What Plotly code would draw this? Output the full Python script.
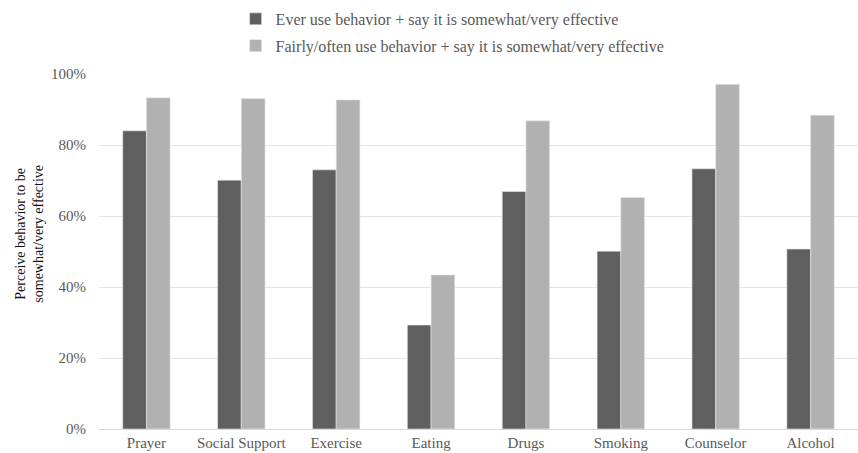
import plotly.graph_objects as go

categories = ["Prayer", "Social Support", "Exercise", "Eating", "Drugs", "Smoking", "Counselor", "Alcohol"]
ever_use = [0.84, 0.701, 0.73, 0.293, 0.669, 0.501, 0.733, 0.507]
often_use = [0.933, 0.931, 0.927, 0.434, 0.868, 0.652, 0.971, 0.884]
series_names = [
    "Ever use behavior + say it is somewhat/very effective",
    "Fairly/often use behavior + say it is somewhat/very effective",
]
y_ticks = [0, 0.2, 0.4, 0.6, 0.8, 1.0]

FONT = "Liberation Serif"

fig = go.Figure()
fig.add_trace(go.Bar(x=categories, y=ever_use, name=series_names[0], legendgroup="g1",
                     marker=dict(color="#5f5f5f", line=dict(width=0.6, color="#e8e8e8"))))
fig.add_trace(go.Bar(x=categories, y=often_use, name=series_names[1], legendgroup="g2",
                     marker=dict(color="#b1b1b1", line=dict(width=0.6, color="#e8e8e8"))))

fig.update_layout(
    width=858, height=453,
    margin=dict(l=99, r=0, t=74, b=24, autoexpand=False),
    paper_bgcolor="white", plot_bgcolor="white",
    barmode="group", bargap=0.5, bargroupgap=0,
    font=dict(family=FONT, size=15, color="#595959"),
    showlegend=True,
    legend=dict(orientation="v", x=0.18, xanchor="left", y=1.203, yanchor="top",
                font=dict(family=FONT, size=16, color="#595959"),
                tracegroupgap=3,
                bgcolor="rgba(0,0,0,0)", itemclick=False),
    xaxis=dict(showline=True, linecolor="#d9d9d9", linewidth=1, showgrid=False,
               tickfont=dict(family=FONT, size=15, color="#595959"), ticks=""),
    yaxis=dict(range=[0, 1.0], tickvals=y_ticks, tickformat=".0%",
               showgrid=True, gridcolor="#e3e3e3", gridwidth=1, zeroline=False,
               tickfont=dict(family=FONT, size=15, color="#595959"),
               ticks="", ticklabelstandoff=12),
    annotations=[dict(text="Perceive behavior to be<br>somewhat/very effective",
                      xref="paper", yref="paper", x=-0.091, y=0.55, textangle=-90,
                      showarrow=False, xanchor="center", yanchor="middle",
                      font=dict(family=FONT, size=14, color="#111111"))],
)

fig.write_html("out.html")
